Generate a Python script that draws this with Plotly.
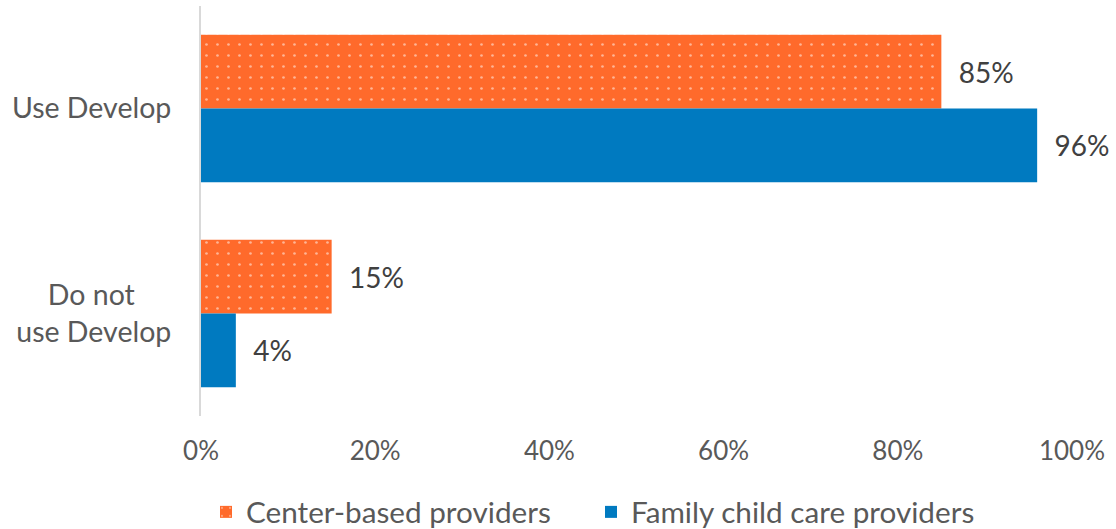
import plotly.graph_objects as go

NB = "\u00a0"
categories = ["Use Develop", "Do not" + NB * 5 + "<br>use Develop"]
center_vals = [85, 15]
family_vals = [96, 4]
series_names = ["Center-based providers", "Family child care providers"]
tick_vals = [0, 20, 40, 60, 80, 100]
tick_text = ["0%", "20%", "40%", "60%", "80%", "100%"]

FONT = "Lato, sans-serif"
ORANGE = "#FF6A2B"
BLUE = "#007AC0"
PAD = NB * 2

fig = go.Figure()
fig.add_trace(go.Bar(
    y=categories, x=center_vals, orientation="h", name=series_names[0],
    marker=dict(color=ORANGE, line=dict(width=0),
                pattern=dict(shape=".", fgcolor="#FFFFFF", bgcolor=ORANGE, size=11, solidity=0.045)),
    text=[f"{PAD}{v}%" for v in center_vals], textposition="outside",
    textfont=dict(size=28, color="#404040", family=FONT), cliponaxis=False,
))
fig.add_trace(go.Bar(
    y=categories, x=family_vals, orientation="h", name=series_names[1],
    marker=dict(color=BLUE, line=dict(width=0)),
    text=[f"{PAD}{v}%" for v in family_vals], textposition="outside",
    textfont=dict(size=28, color="#404040", family=FONT), cliponaxis=False,
))

fig.update_layout(
    width=1116, height=529,
    margin=dict(l=201, r=44, t=6, b=113),
    barmode="group", bargap=0.28, bargroupgap=0,
    plot_bgcolor="white", paper_bgcolor="white",
    font=dict(family=FONT, size=26, color="#595959"),
    xaxis=dict(range=[0, 100], tickvals=tick_vals, ticktext=tick_text, showgrid=False,
               zeroline=False, showline=False, ticks="", automargin=False,
               tickfont=dict(size=26, color="#595959"), ticklabelstandoff=17),
    yaxis=dict(autorange="reversed", showgrid=False, showline=True, linecolor="#D9D9D9",
               linewidth=2, ticks="", automargin=False,
               tickfont=dict(size=28.5, color="#595959"), ticklabelstandoff=22),
    legend=dict(orientation="h", xref="container", yref="container",
                x=0.1846, xanchor="left", y=0.032, yanchor="middle",
                font=dict(size=29.7, color="#595959"), traceorder="normal", itemwidth=30,
                entrywidth=340),
    uniformtext=dict(mode=False),
)

fig.write_html("out.html", config={"displayModeBar": False},
               post_script="document.body.style.margin='0px';document.body.style.padding='0px';")
